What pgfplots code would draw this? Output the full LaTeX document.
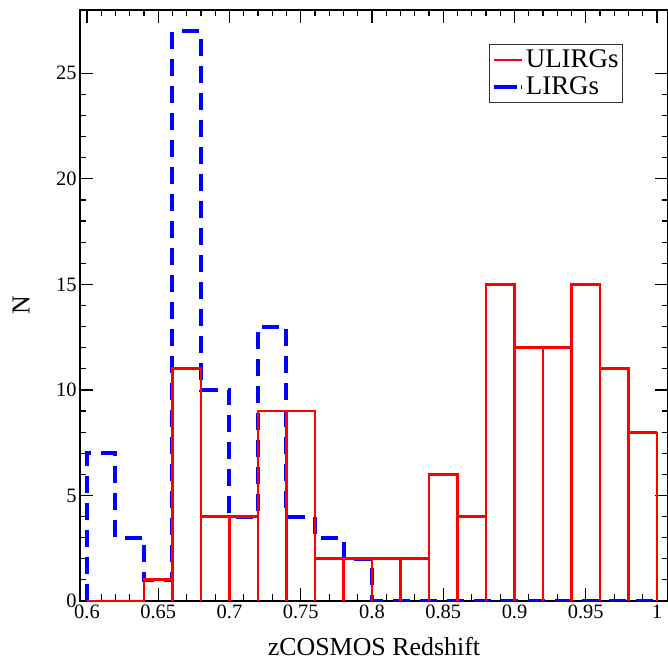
\documentclass[border=0pt]{standalone}
\usepackage{fontspec}
\setmainfont{Liberation Serif}
\usepackage{pgfplots}
\pgfplotsset{compat=1.18}

\begin{document}
\begin{tikzpicture}
\begin{axis}[
    scale only axis,
    width=588bp, height=591bp,
    xmin=0.5951, xmax=1.0077, ymin=0, ymax=28,
    xtick={0.6,0.65,0.7,0.75,0.8,0.85,0.9,0.95,1},
    xticklabels={0.6,0.65,0.7,0.75,0.8,0.85,0.9,0.95,1},
    ytick={0,5,10,15,20,25},
    minor x tick num=4, minor y tick num=4,
    major tick length=13bp, minor tick length=6.5bp,
    every tick/.style={black, line width=1.2bp},
    axis line style={line width=1.6bp},
    tick label style={font=\fontsize{20.5}{24}\selectfont},
    /pgf/number format/assume math mode=true,
    xlabel={zCOSMOS Redshift}, ylabel={N},
    label style={font=\fontsize{26}{30}\selectfont},
    xlabel style={at={(axis description cs:0.5,0)}, anchor=base, yshift=-54bp},
    ylabel style={at={(axis description cs:-0.1003,0.5)}, anchor=center},
    legend style={at={(0.9235,0.9425)}, anchor=north east,
      font=\fontsize{27}{27}\selectfont, draw=black!80, line width=1bp,
      inner xsep=2bp, inner ysep=2bp, row sep=0bp,
      nodes={text height=19bp, text depth=4bp, inner ysep=2bp}},
    legend cell align=left,
    legend image code/.code={\draw[#1] (0bp,0bp) -- (28bp,0bp);},
  ]
  % LIRGs
  \addplot[blue, line width=4bp, dash pattern=on 17bp off 10bp, const plot, forget plot] coordinates {
    (0.6,0) (0.6,7) (0.62,3) (0.64,1) (0.66,27) (0.68,10) (0.70,4) (0.72,13)
    (0.74,4) (0.76,3) (0.78,2) (0.80,0) (1.0,0) };
  % ULIRGs bar edges
  \addplot[red, line width=2.2bp, ycomb, forget plot] coordinates {
    (0.64,1) (0.66,11) (0.68,11) (0.70,4) (0.72,9) (0.74,9) (0.76,9) (0.78,2)
    (0.80,2) (0.82,2) (0.84,6) (0.86,6) (0.88,15) (0.90,15) (0.92,12) (0.94,15)
    (0.96,15) (0.98,11) (1.00,8) };
  % ULIRGs outline
  \addplot[red, line width=2.8bp, const plot] coordinates {
    (0.6,0) (0.62,0) (0.64,1) (0.66,11) (0.68,4) (0.70,4) (0.72,9) (0.74,9)
    (0.76,2) (0.78,2) (0.80,2) (0.82,2) (0.84,6) (0.86,4) (0.88,15) (0.90,12)
    (0.92,12) (0.94,15) (0.96,11) (0.98,8) (1.00,8) };
  \addlegendentry{ULIRGs}
  \addlegendimage{blue, line width=4bp, dash pattern=on 23bp off 4bp}
  \addlegendentry{LIRGs}
\end{axis}
\pgfresetboundingbox
\path[use as bounding box] (-80bp,-62bp) rectangle (588bp,601bp);
\end{tikzpicture}
\end{document}
